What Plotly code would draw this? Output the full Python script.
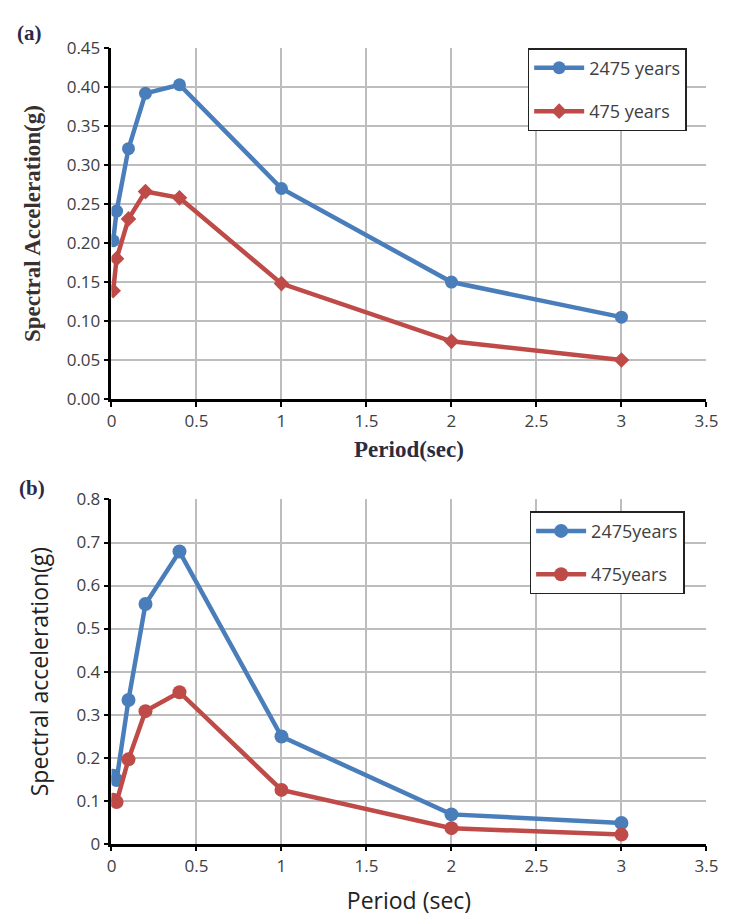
import plotly.graph_objects as go

# Spectral periods (sec)
periods = [0.01, 0.03, 0.1, 0.2, 0.4, 1, 2, 3]

# Panel (a)
a_2475 = [0.203, 0.241, 0.321, 0.392, 0.403, 0.270, 0.150, 0.105]
a_475 = [0.139, 0.180, 0.231, 0.266, 0.258, 0.148, 0.074, 0.050]

# Panel (b)
b_2475 = [0.158, 0.148, 0.334, 0.557, 0.679, 0.249, 0.068, 0.048]
b_475 = [0.102, 0.097, 0.196, 0.308, 0.352, 0.125, 0.036, 0.021]

x_ticks = [0, 0.5, 1, 1.5, 2, 2.5, 3, 3.5]
x_tick_text = ["0", "0.5", "1", "1.5", "2", "2.5", "3", "3.5"]
a_y_ticks = [0.00, 0.05, 0.10, 0.15, 0.20, 0.25, 0.30, 0.35, 0.40, 0.45]
b_y_ticks = [0, 0.1, 0.2, 0.3, 0.4, 0.5, 0.6, 0.7, 0.8]

BLUE = "#4a7ebb"
RED = "#be4b48"
SANS = "Open Sans, sans-serif"
SERIF = "Liberation Serif, Times New Roman, serif"
TXT = "#404040"

W, H = 737, 919
x0, x1 = 109 / W, 718 / W

fig = go.Figure()

fig.add_trace(go.Scatter(x=periods, y=a_2475, name="2475 years", mode="lines+markers",
                         line=dict(color=BLUE, width=4.5),
                         marker=dict(symbol="circle", size=13, color=BLUE),
                         xaxis="x", yaxis="y", legendgroup="a1", legend="legend"))
fig.add_trace(go.Scatter(x=periods, y=a_475, name="475 years", mode="lines+markers",
                         line=dict(color=RED, width=4.5),
                         marker=dict(symbol="diamond", size=12, color=RED),
                         xaxis="x", yaxis="y", legendgroup="a2", legend="legend"))
fig.add_trace(go.Scatter(x=periods, y=b_2475, name="2475years", mode="lines+markers",
                         line=dict(color=BLUE, width=4.5),
                         marker=dict(symbol="circle", size=14, color=BLUE),
                         xaxis="x2", yaxis="y2", legendgroup="b1", legend="legend2"))
fig.add_trace(go.Scatter(x=periods, y=b_475, name="475years", mode="lines+markers",
                         line=dict(color=RED, width=4.5),
                         marker=dict(symbol="circle", size=14, color=RED),
                         xaxis="x2", yaxis="y2", legendgroup="b2", legend="legend2"))

axis_common = dict(
    showgrid=True, gridcolor="#bdbdbd", gridwidth=2,
    showline=True, linecolor="black", linewidth=2.5,
    ticks="outside", ticklen=5, tickcolor="black", tickwidth=2,
    zeroline=False, tickfont=dict(family=SANS, size=17, color=TXT),
)

legend_common = dict(
    xanchor="left", yanchor="top",
    bgcolor="white", bordercolor="#222222", borderwidth=1.5,
    font=dict(family=SANS, size=18, color=TXT),
    tracegroupgap=17, itemwidth=50,
)

fig.update_layout(
    width=W, height=H,
    margin=dict(l=0, r=0, t=0, b=0),
    paper_bgcolor="white", plot_bgcolor="white",
    showlegend=True,
    xaxis=dict(domain=[x0, x1], anchor="y", range=[0, 3.5],
               tickvals=x_ticks, ticktext=x_tick_text,
               title=dict(text="<b>Period(sec)</b>", standoff=10,
                          font=dict(family=SERIF, size=23, color="#2c2c40")),
               **axis_common),
    yaxis=dict(domain=[1 - 397 / H, 1 - 37 / H], anchor="x", range=[0, 0.45],
               tickvals=a_y_ticks, tickformat=".2f",
               title=dict(text="<b>Spectral Acceleration(g)</b>", standoff=20,
                          font=dict(family=SERIF, size=23, color="#3a3030")),
               **axis_common),
    xaxis2=dict(domain=[x0, x1], anchor="y2", range=[0, 3.5],
                tickvals=x_ticks, ticktext=x_tick_text,
                title=dict(text="Period (sec)", standoff=18,
                           font=dict(family=SANS, size=23, color="#222222")),
                **axis_common),
    yaxis2=dict(domain=[1 - 853 / H, 1 - 500 / H], anchor="x2", range=[0, 0.8],
                tickvals=b_y_ticks, ticktext=[f"{v:g}" for v in b_y_ticks],
                title=dict(text="Spectral acceleration(g)", standoff=22,
                           font=dict(family=SANS, size=23, color="#222222")),
                **axis_common),
    legend=dict(x=535 / W, y=1 - 37 / H, **legend_common),
    legend2=dict(x=537 / W, y=1 - 512 / H, **legend_common),
)

fig.add_annotation(text="<b>(a)</b>", x=10 / W, y=1 - 22 / H, xref="paper", yref="paper",
                   xanchor="left", yanchor="middle", showarrow=False,
                   font=dict(family=SERIF, size=21, color="#2a2a48"))
fig.add_annotation(text="<b>(b)</b>", x=12 / W, y=1 - 488 / H, xref="paper", yref="paper",
                   xanchor="left", yanchor="middle", showarrow=False,
                   font=dict(family=SERIF, size=21, color="#2a2a48"))

fig.write_html("out.html")
